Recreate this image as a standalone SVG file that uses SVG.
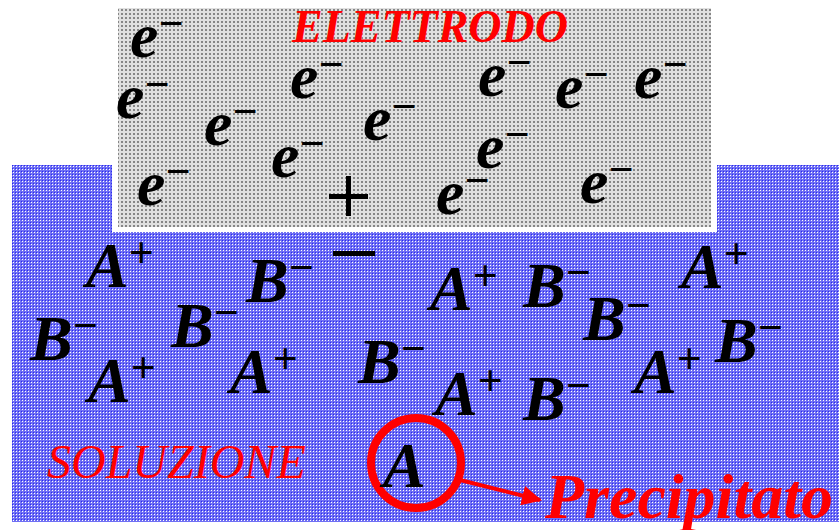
<svg xmlns="http://www.w3.org/2000/svg" width="839" height="530" viewBox="0 0 839 530">
<defs>
<pattern id="pBlue" width="3" height="3" patternUnits="userSpaceOnUse">
<rect width="3" height="3" fill="#7070f4"/>
<rect x="0" y="0" width="1" height="1" fill="#2a2af0"/>
<rect x="1" y="1" width="1" height="1" fill="#ffffff"/>
</pattern>
<pattern id="pGray" width="4" height="4" patternUnits="userSpaceOnUse">
<rect width="4" height="4" fill="#e0e0e0"/>
<rect x="1" y="1" width="2" height="2" fill="#868686"/>
</pattern>
<marker id="arr" viewBox="0 0 10 10" refX="9" refY="5" markerWidth="5" markerHeight="5" orient="auto" markerUnits="strokeWidth">
<path d="M0,0 L10,5 L0,10 z" fill="#ff0000"/>
</marker>
<style>
.ion{font-family:"Liberation Serif","Times New Roman",serif;font-size:64px;font-weight:bold;font-style:italic;fill:#000}
.sup{font-size:44px;font-weight:bold;font-style:normal}
.red{fill:#ff0000;font-family:"Liberation Serif","Times New Roman",serif;font-style:italic}
.sign{fill:#000}
</style>
</defs>

<g id="solution">
<rect x="12" y="165" width="827" height="357" fill="url(#pBlue)"/>
<text class="red" x="47" y="478" font-size="48">SOLUZIONE</text>
</g>

<g id="electrode">
<rect x="112" y="0" width="605" height="232" fill="#ffffff"/>
<rect x="118" y="8" width="593" height="219" fill="url(#pGray)"/>
<text class="red" x="292" y="42" font-size="46" font-weight="bold">ELETTRODO</text>
</g>

<g id="electrons">
<text class="ion" x="130" y="57">e<tspan class="sup" dy="-19">−</tspan></text>
<text class="ion" x="116" y="118">e<tspan class="sup" dy="-19">−</tspan></text>
<text class="ion" x="204" y="145">e<tspan class="sup" dy="-19">−</tspan></text>
<text class="ion" x="290" y="98">e<tspan class="sup" dy="-19">−</tspan></text>
<text class="ion" x="271" y="177">e<tspan class="sup" dy="-19">−</tspan></text>
<text class="ion" x="137" y="205">e<tspan class="sup" dy="-19">−</tspan></text>
<text class="ion" x="363" y="140">e<tspan class="sup" dy="-19">−</tspan></text>
<text class="ion" x="478" y="96">e<tspan class="sup" dy="-19">−</tspan></text>
<text class="ion" x="555" y="108">e<tspan class="sup" dy="-19">−</tspan></text>
<text class="ion" x="634" y="98">e<tspan class="sup" dy="-19">−</tspan></text>
<text class="ion" x="476" y="168">e<tspan class="sup" dy="-19">−</tspan></text>
<text class="ion" x="436" y="214">e<tspan class="sup" dy="-19">−</tspan></text>
<text class="ion" x="580" y="203">e<tspan class="sup" dy="-19">−</tspan></text>
</g>

<g id="charges">
<rect class="sign" x="329" y="194" width="39" height="5"/>
<rect class="sign" x="346" y="176" width="5" height="40"/>
<rect class="sign" x="333" y="251" width="42" height="5"/>
</g>

<g id="ions">
<text class="ion" x="86" y="287">A<tspan class="sup" dy="-20">+</tspan></text>
<text class="ion" x="246" y="302">B<tspan class="sup" dy="-20">−</tspan></text>
<text class="ion" x="430" y="310">A<tspan class="sup" dy="-20">+</tspan></text>
<text class="ion" x="523" y="307">B<tspan class="sup" dy="-20">−</tspan></text>
<text class="ion" x="583" y="340">B<tspan class="sup" dy="-20">−</tspan></text>
<text class="ion" x="681" y="288">A<tspan class="sup" dy="-20">+</tspan></text>
<text class="ion" x="30" y="360">B<tspan class="sup" dy="-20">−</tspan></text>
<text class="ion" x="171" y="347">B<tspan class="sup" dy="-20">−</tspan></text>
<text class="ion" x="88" y="402">A<tspan class="sup" dy="-20">+</tspan></text>
<text class="ion" x="230" y="393">A<tspan class="sup" dy="-20">+</tspan></text>
<text class="ion" x="358" y="383">B<tspan class="sup" dy="-20">−</tspan></text>
<text class="ion" x="435" y="415">A<tspan class="sup" dy="-20">+</tspan></text>
<text class="ion" x="523" y="420">B<tspan class="sup" dy="-20">−</tspan></text>
<text class="ion" x="634" y="393">A<tspan class="sup" dy="-20">+</tspan></text>
<text class="ion" x="715" y="362">B<tspan class="sup" dy="-20">−</tspan></text>
</g>

<g id="precipitate">
<circle cx="416" cy="463" r="45" fill="none" stroke="#ff0000" stroke-width="8"/>
<text class="ion" x="383" y="487">A</text>
</g>

<g id="connectors">
<line x1="460" y1="480" x2="540" y2="500" stroke="#ff0000" stroke-width="4" marker-end="url(#arr)"/>
</g>

<g id="label-precipitato">
<text class="red" x="545" y="518" font-size="64" font-weight="bold">Precipitato</text>
</g>
</svg>
